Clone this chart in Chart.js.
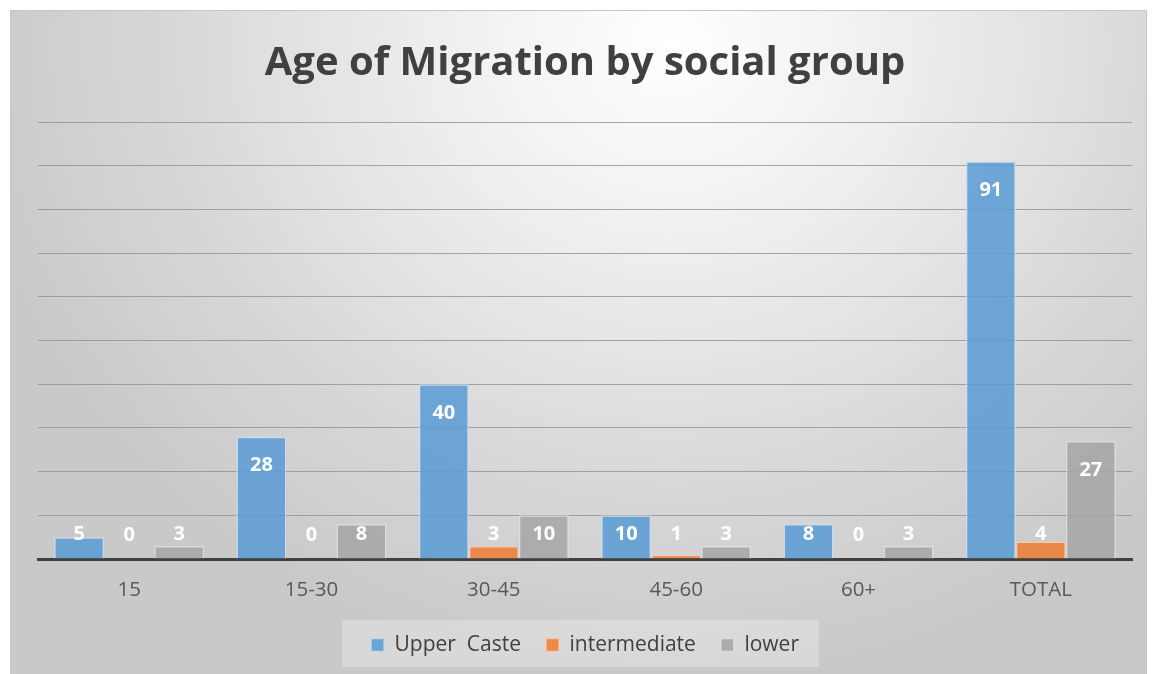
<!DOCTYPE html>
<html>
<head>
<meta charset="utf-8">
<script src="https://cdn.jsdelivr.net/npm/chart.js@4.4.1/dist/chart.umd.min.js"></script>
<style>
  html, body { margin: 0; padding: 0; background: #ffffff; width: 1154px; height: 674px; overflow: hidden; }
  #frame {
    position: absolute; left: 10px; top: 10px; width: 1137px; height: 664px;
    box-sizing: border-box; border: 1px solid #c6c6c6; border-bottom: none;
    background: radial-gradient(ellipse 62% 95% at 58% 5%, #ffffff 0%, #ededed 35%, #d8d8d8 70%, #c9c9c9 100%);
  }
  #chart { position: absolute; left: 10px; top: 10px; }
</style>
</head>
<body>
<div id="frame"></div>
<canvas id="chart" width="1137" height="664"></canvas>
<script>
// Age bands and the number of migrants in each social group
const categories = ['15', '15-30', '30-45', '45-60', '60+', 'TOTAL'];
const upperCaste = [5, 28, 40, 10, 8, 91];
const intermediate = [0, 0, 3, 1, 0, 4];
const lower = [3, 8, 10, 3, 3, 27];
const seriesNames = ['Upper  Caste', 'intermediate', 'lower'];
const chartTitle = 'Age of Migration by social group';
const yMin = 0;
const yMax = 100;
const yStep = 10;

const FONT = "'Open Sans', 'DejaVu Sans', sans-serif";

// Value labels inside the top of each bar, kept clear of the axis line
const valueLabels = {
  id: 'valueLabels',
  afterDatasetsDraw(chart) {
    const ctx = chart.ctx;
    ctx.save();
    ctx.font = `bold 20px ${FONT}`;
    ctx.fillStyle = '#ffffff';
    ctx.textAlign = 'center';
    ctx.textBaseline = 'middle';
    chart.data.datasets.forEach((ds, di) => {
      const meta = chart.getDatasetMeta(di);
      meta.data.forEach((bar, i) => {
        const y = Math.min(bar.y + 29, bar.base - 24);
        ctx.fillText(String(ds.data[i]), bar.x, y);
      });
    });
    ctx.restore();
  }
};

// Light panel behind the legend entries
const legendPanel = {
  id: 'legendPanel',
  beforeDraw(chart) {
    const lg = chart.legend;
    if (!lg || !lg.legendHitBoxes || !lg.legendHitBoxes.length) return;
    const boxes = lg.legendHitBoxes;
    const left = Math.min(...boxes.map(b => b.left)) - 29;
    const right = Math.max(...boxes.map(b => b.left + b.width)) + 20;
    const top = Math.min(...boxes.map(b => b.top)) - 14.5;
    const bottom = Math.max(...boxes.map(b => b.top + b.height)) + 11.5;
    const ctx = chart.ctx;
    ctx.save();
    ctx.fillStyle = 'rgba(255,255,255,0.28)';
    ctx.fillRect(left, top, right - left, bottom - top);
    ctx.restore();
  }
};

const barStyle = (fill, edge) => ({
  backgroundColor: fill,
  borderColor: edge,
  borderWidth: 1.5,
  borderSkipped: 'bottom',
  barPercentage: 1.0,
  categoryPercentage: 0.823
});

new Chart(document.getElementById('chart'), {
  type: 'bar',
  data: {
    labels: categories,
    datasets: [
      { label: seriesNames[0], data: upperCaste, ...barStyle('rgba(91,155,213,0.86)', 'rgba(200,222,242,0.75)') },
      { label: seriesNames[1], data: intermediate, ...barStyle('rgba(237,125,49,0.86)', 'rgba(248,205,176,0.75)') },
      { label: seriesNames[2], data: lower, ...barStyle('rgba(165,165,165,0.86)', 'rgba(225,225,225,0.75)') }
    ]
  },
  options: {
    responsive: false,
    animation: false,
    layout: { padding: { left: 28, right: 15, top: 0, bottom: 8.5 } },
    plugins: {
      title: {
        display: true,
        text: chartTitle,
        color: '#404040',
        font: { family: FONT, size: 40, weight: 'bold', lineHeight: 1.2 },
        padding: { top: 30, bottom: 34 }
      },
      legend: {
        display: true,
        position: 'bottom',
        labels: {
          color: '#404040',
          font: { family: FONT, size: 21 },
          boxWidth: 13,
          boxHeight: 13,
          padding: 25
        }
      },
      tooltip: { enabled: false }
    },
    scales: {
      x: {
        grid: { display: false, drawTicks: false },
        border: { display: true, color: '#404040', width: 3 },
        ticks: { color: '#595959', font: { family: FONT, size: 20.5 }, padding: 19 },
        afterFit(scale) { scale.height = 50.5; }
      },
      y: {
        min: yMin,
        max: yMax,
        ticks: { display: false, stepSize: yStep },
        border: { display: false },
        grid: {
          drawTicks: false,
          lineWidth: 1,
          color: (c) => (c.tick && c.tick.value === yMin) ? 'rgba(0,0,0,0)' : 'rgba(140,140,140,0.75)'
        }
      }
    }
  },
  plugins: [legendPanel, valueLabels]
});
</script>
</body>
</html>
